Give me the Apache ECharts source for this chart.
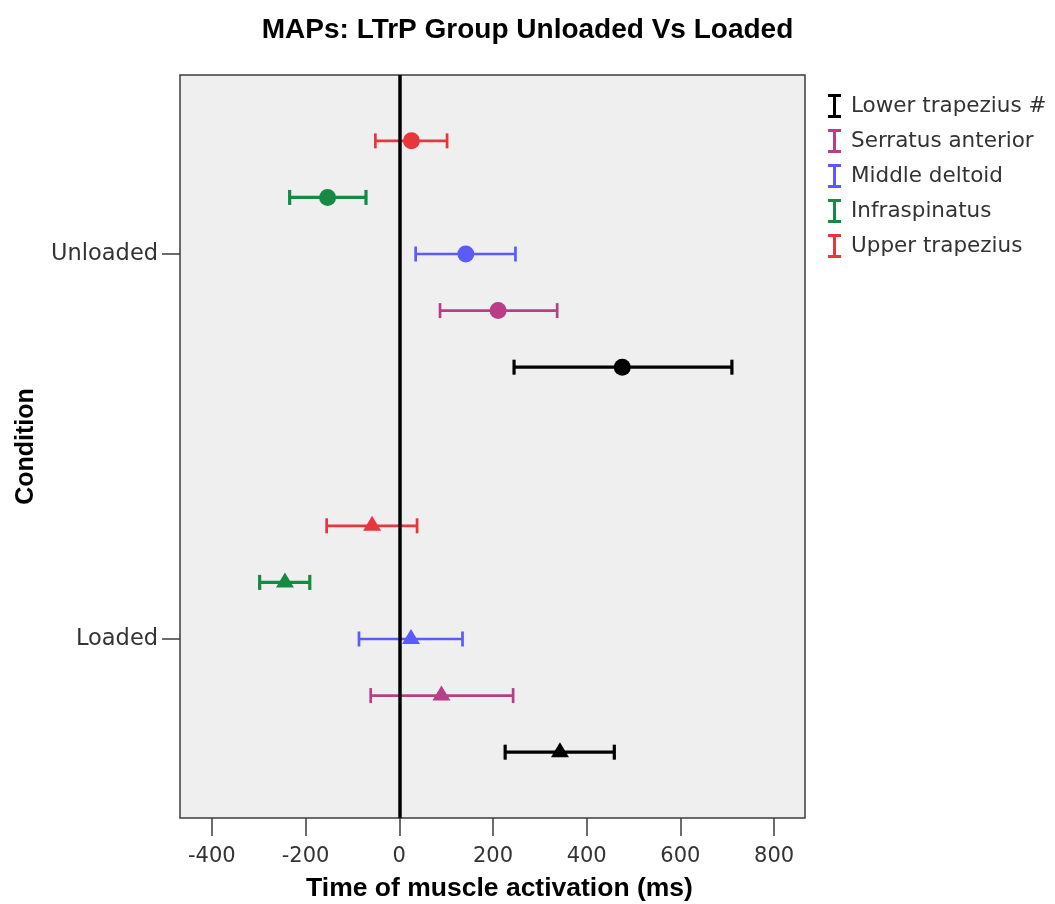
<!DOCTYPE html>
<html>
<head>
<meta charset="utf-8">
<title>MAPs: LTrP Group Unloaded Vs Loaded</title>
<script src="https://cdn.jsdelivr.net/npm/echarts@6/dist/echarts.min.js"></script>
<style>
  html, body { margin: 0; padding: 0; background: #fff; }
  #chart { width: 1055px; height: 904px; }
</style>
</head>
<body>
<div id="chart"></div>
<script>
// Muscles, listed top-to-bottom within each condition band
const muscles = ['Upper trapezius', 'Infraspinatus', 'Middle deltoid', 'Serratus anterior', 'Lower trapezius #'];
const conditions = ['Unloaded', 'Loaded'];
const colors = ['#e8363c', '#168a43', '#5a5aff', '#b83f87', '#000000'];

// Mean onset time (ms) with lower / upper error-bar limits
const unloadedMean = [26, -153, 142, 211, 476];
const unloadedLow  = [-51, -234, 35, 87, 245];
const unloadedHigh = [102, -71, 248, 337, 710];

const loadedMean = [-58, -244, 25, 90, 343];
const loadedLow  = [-155, -298, -86, -61, 226];
const loadedHigh = [38, -191, 135, 243, 459];

const xTicks = [-400, -200, 0, 200, 400, 600, 800];

// vertical dodge between muscles inside a condition band (axis units)
const dodge = 0.147;

const means = [unloadedMean, loadedMean];
const lows = [unloadedLow, loadedLow];
const highs = [unloadedHigh, loadedHigh];

const FONT = "'DejaVu Sans', sans-serif";
const BOLD = "'Liberation Sans', Arial, sans-serif";

function renderItem(params, api) {
  const lo = api.value(0), hi = api.value(1), mean = api.value(2);
  const cond = api.value(3), y = api.value(4);
  const color = api.visual('color');
  const a = api.coord([lo, y]);
  const b = api.coord([hi, y]);
  const m = api.coord([mean, y]);
  const lw = color === '#000000' || color === '#168a43' ? 3.2 : 2.7;
  const st = { stroke: color, lineWidth: lw, fill: null };
  const capH = 7.5;
  const children = [
    { type: 'line', shape: { x1: a[0], y1: a[1], x2: b[0], y2: b[1] }, style: st },
    { type: 'line', shape: { x1: a[0], y1: a[1] - capH, x2: a[0], y2: a[1] + capH }, style: st },
    { type: 'line', shape: { x1: b[0], y1: b[1] - capH, x2: b[0], y2: b[1] + capH }, style: st }
  ];
  if (cond === 0) {
    children.push({ type: 'circle', shape: { cx: m[0], cy: m[1], r: 8.5 }, style: { fill: color } });
  } else {
    children.push({
      type: 'polygon',
      shape: { points: [[m[0], m[1] - 10], [m[0] + 9, m[1] + 5], [m[0] - 9, m[1] + 5]] },
      style: { fill: color }
    });
  }
  return { type: 'group', children: children };
}

const series = muscles.map(function (name, i) {
  const data = conditions.map(function (c, ci) {
    return [lows[ci][i], highs[ci][i], means[ci][i], ci, ci + 1 + (i - 2) * dodge];
  });
  return {
    name: name,
    type: 'custom',
    renderItem: renderItem,
    itemStyle: { color: colors[i] },
    encode: { x: [0, 1, 2], y: 4 },
    data: data,
    z: 3
  };
});

// zero reference line
series.push({
  name: 'zero',
  type: 'line',
  data: [],
  silent: true,
  z: 10,
  markLine: {
    silent: true,
    symbol: 'none',
    label: { show: false },
    lineStyle: { color: '#000', width: 3.5, type: 'solid' },
    data: [{ xAxis: 0 }]
  }
});

const chart = echarts.init(document.getElementById('chart'), null, { renderer: 'canvas' });

chart.setOption({
  animation: false,
  backgroundColor: '#ffffff',
  title: {
    text: 'MAPs: LTrP Group Unloaded Vs Loaded',
    left: 'center',
    top: 11,
    textStyle: { fontFamily: BOLD, fontWeight: 'bold', fontSize: 28, color: '#000' }
  },
  legend: {
    orient: 'vertical',
    left: 823,
    top: 89,
    itemWidth: 13,
    itemHeight: 24,
    itemGap: 11,
    icon: 'path://M0,0H13V3H8V21H13V24H0V21H5V3H0Z',
    data: ['Lower trapezius #', 'Serratus anterior', 'Middle deltoid', 'Infraspinatus', 'Upper trapezius'],
    textStyle: { fontFamily: FONT, fontSize: 21.5, color: '#333', padding: [0, 0, 0, 5] }
  },
  grid: {
    left: 180,
    right: 250,
    top: 75,
    bottom: 86,
    outerBoundsMode: 'none',
    containLabel: false,
    show: true,
    backgroundColor: '#efefef',
    borderColor: '#3c3c3c',
    borderWidth: 1.5
  },
  xAxis: {
    type: 'value',
    min: -468,
    max: 866,
    name: 'Time of muscle activation (ms)',
    nameLocation: 'middle',
    nameGap: 57,
    nameTextStyle: { fontFamily: BOLD, fontWeight: 'bold', fontSize: 26.5, color: '#000', padding: [0, 0, 0, 14] },
    axisLine: { show: false, onZero: false },
    splitLine: { show: false },
    axisTick: { show: true, length: 18, customValues: xTicks, lineStyle: { color: '#3c3c3c', width: 1.5 } },
    axisLabel: { customValues: xTicks, margin: 28, fontFamily: FONT, fontSize: 21, color: '#333' }
  },
  yAxis: {
    type: 'value',
    inverse: true,
    min: 0.535,
    max: 2.465,
    name: 'Condition',
    nameLocation: 'middle',
    nameGap: 141,
    nameRotate: 90,
    nameTextStyle: { fontFamily: BOLD, fontWeight: 'bold', fontSize: 25, color: '#000' },
    axisLine: { show: false, onZero: false },
    splitLine: { show: false },
    axisTick: { show: true, length: 18, customValues: [1, 2], lineStyle: { color: '#3c3c3c', width: 1.5 } },
    axisLabel: {
      customValues: [1, 2],
      margin: 22,
      fontFamily: FONT,
      fontSize: 22.5,
      color: '#333',
      formatter: function (v) { return conditions[Math.round(v) - 1]; }
    }
  },
  series: series
});
</script>
</body>
</html>
